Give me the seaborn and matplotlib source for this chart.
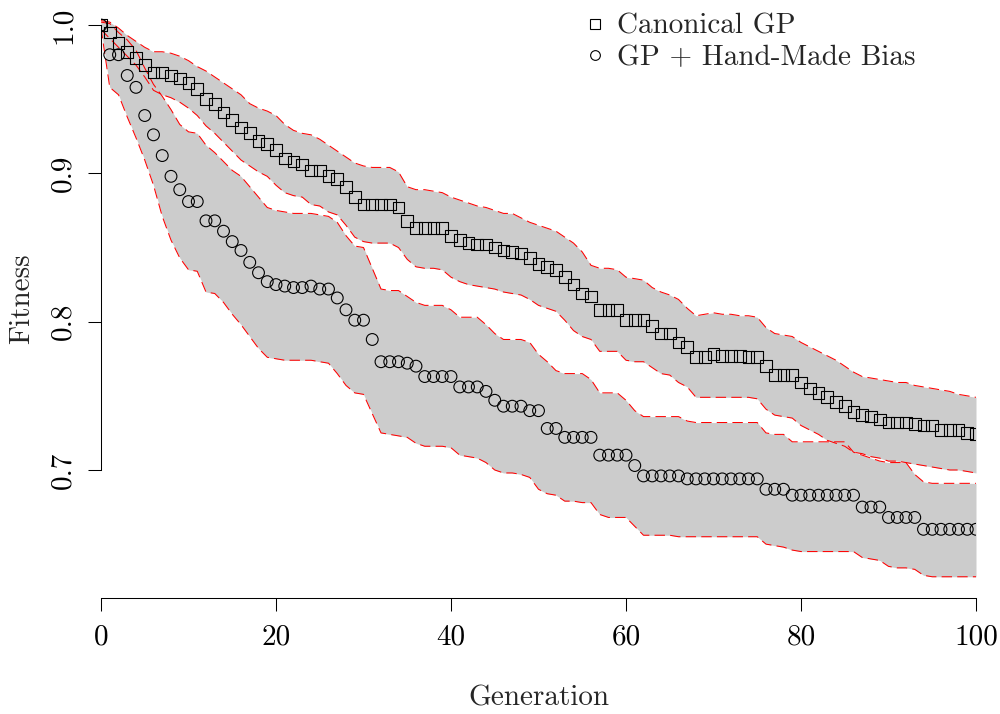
import numpy as np
import pandas as pd
import matplotlib
matplotlib.use("Agg")
import matplotlib.pyplot as plt
import seaborn as sns
from matplotlib.lines import Line2D

generation = list(range(101))

canonical_mean = [
    1.000, 0.995, 0.988, 0.982, 0.978, 0.973, 0.968, 0.968, 0.966, 0.964,
    0.961, 0.957, 0.950, 0.947, 0.941, 0.936, 0.931, 0.927, 0.922, 0.920,
    0.916, 0.910, 0.908, 0.906, 0.902, 0.902, 0.898, 0.896, 0.891, 0.884,
    0.879, 0.879, 0.879, 0.879, 0.877, 0.868, 0.863, 0.863, 0.863, 0.863,
    0.858, 0.855, 0.853, 0.852, 0.852, 0.850, 0.848, 0.847, 0.846, 0.843,
    0.839, 0.837, 0.835, 0.830, 0.825, 0.819, 0.817, 0.808, 0.808, 0.808,
    0.801, 0.801, 0.801, 0.797, 0.792, 0.792, 0.786, 0.783, 0.776, 0.776,
    0.778, 0.777, 0.777, 0.777, 0.776, 0.776, 0.770, 0.764, 0.764, 0.764,
    0.759, 0.755, 0.752, 0.749, 0.746, 0.743, 0.739, 0.737, 0.736, 0.734,
    0.732, 0.732, 0.732, 0.731, 0.730, 0.730, 0.727, 0.727, 0.727, 0.725,
    0.724,
]
canonical_upper = [
    1.003, 1.002, 0.998, 0.993, 0.989, 0.985, 0.982, 0.982, 0.981, 0.979,
    0.976, 0.972, 0.969, 0.965, 0.961, 0.957, 0.953, 0.947, 0.944, 0.942,
    0.939, 0.933, 0.929, 0.927, 0.926, 0.923, 0.919, 0.915, 0.911, 0.907,
    0.905, 0.904, 0.904, 0.904, 0.901, 0.891, 0.889, 0.889, 0.888, 0.887,
    0.884, 0.882, 0.880, 0.878, 0.877, 0.875, 0.873, 0.873, 0.870, 0.867,
    0.865, 0.863, 0.861, 0.857, 0.853, 0.847, 0.838, 0.836, 0.836, 0.835,
    0.830, 0.829, 0.828, 0.823, 0.820, 0.818, 0.815, 0.809, 0.804, 0.805,
    0.806, 0.805, 0.805, 0.804, 0.804, 0.803, 0.796, 0.792, 0.791, 0.790,
    0.786, 0.783, 0.780, 0.777, 0.774, 0.770, 0.766, 0.763, 0.762, 0.761,
    0.760, 0.759, 0.759, 0.757, 0.756, 0.755, 0.754, 0.753, 0.751, 0.750,
    0.749,
]
canonical_lower = [
    0.997, 0.991, 0.985, 0.979, 0.973, 0.965, 0.956, 0.953, 0.951, 0.948,
    0.944, 0.939, 0.932, 0.927, 0.921, 0.915, 0.909, 0.905, 0.901, 0.898,
    0.892, 0.887, 0.885, 0.884, 0.879, 0.878, 0.874, 0.872, 0.865, 0.857,
    0.854, 0.853, 0.853, 0.853, 0.850, 0.842, 0.837, 0.836, 0.836, 0.835,
    0.830, 0.827, 0.825, 0.824, 0.823, 0.822, 0.820, 0.819, 0.818, 0.815,
    0.811, 0.809, 0.807, 0.801, 0.794, 0.790, 0.788, 0.780, 0.780, 0.780,
    0.774, 0.773, 0.773, 0.769, 0.765, 0.764, 0.759, 0.756, 0.749, 0.749,
    0.749, 0.749, 0.749, 0.749, 0.749, 0.748, 0.741, 0.737, 0.736, 0.735,
    0.730, 0.727, 0.724, 0.720, 0.718, 0.716, 0.712, 0.711, 0.709, 0.708,
    0.706, 0.706, 0.705, 0.704, 0.703, 0.702, 0.701, 0.700, 0.700, 0.699,
    0.698,
]
biased_mean = [
    1.000, 0.980, 0.980, 0.966, 0.958, 0.939, 0.926, 0.912, 0.898, 0.889,
    0.881, 0.881, 0.868, 0.868, 0.861, 0.854, 0.848, 0.840, 0.833, 0.827,
    0.825, 0.824, 0.823, 0.823, 0.824, 0.822, 0.822, 0.816, 0.808, 0.801,
    0.801, 0.788, 0.773, 0.773, 0.773, 0.772, 0.770, 0.763, 0.763, 0.763,
    0.763, 0.756, 0.756, 0.756, 0.753, 0.747, 0.743, 0.743, 0.743, 0.740,
    0.740, 0.728, 0.728, 0.722, 0.722, 0.722, 0.722, 0.710, 0.710, 0.710,
    0.710, 0.703, 0.696, 0.696, 0.696, 0.696, 0.696, 0.694, 0.694, 0.694,
    0.694, 0.694, 0.694, 0.694, 0.694, 0.694, 0.687, 0.687, 0.687, 0.683,
    0.683, 0.683, 0.683, 0.683, 0.683, 0.683, 0.683, 0.675, 0.675, 0.675,
    0.668, 0.668, 0.668, 0.668, 0.660, 0.660, 0.660, 0.660, 0.660, 0.660,
    0.660,
]
biased_upper = [
    1.002, 1.001, 0.995, 0.990, 0.983, 0.971, 0.960, 0.952, 0.943, 0.933,
    0.928, 0.927, 0.919, 0.914, 0.908, 0.902, 0.898, 0.891, 0.884, 0.877,
    0.875, 0.874, 0.873, 0.873, 0.873, 0.872, 0.871, 0.867, 0.858, 0.851,
    0.850, 0.836, 0.822, 0.821, 0.821, 0.817, 0.813, 0.811, 0.811, 0.811,
    0.808, 0.803, 0.803, 0.803, 0.798, 0.792, 0.788, 0.788, 0.788, 0.786,
    0.778, 0.773, 0.767, 0.765, 0.765, 0.765, 0.761, 0.752, 0.752, 0.752,
    0.747, 0.740, 0.736, 0.736, 0.736, 0.736, 0.736, 0.733, 0.732, 0.732,
    0.732, 0.732, 0.732, 0.732, 0.732, 0.732, 0.725, 0.724, 0.724, 0.719,
    0.719, 0.719, 0.719, 0.719, 0.719, 0.719, 0.712, 0.710, 0.708, 0.706,
    0.705, 0.705, 0.705, 0.697, 0.692, 0.691, 0.691, 0.691, 0.691, 0.691,
    0.691,
]
biased_lower = [
    0.998, 0.958, 0.953, 0.938, 0.924, 0.909, 0.892, 0.871, 0.855, 0.843,
    0.835, 0.834, 0.820, 0.819, 0.813, 0.805, 0.798, 0.790, 0.782, 0.776,
    0.775, 0.774, 0.774, 0.774, 0.774, 0.773, 0.772, 0.765, 0.757, 0.752,
    0.751, 0.738, 0.725, 0.724, 0.723, 0.722, 0.718, 0.716, 0.716, 0.716,
    0.715, 0.710, 0.709, 0.708, 0.705, 0.700, 0.698, 0.698, 0.697, 0.695,
    0.687, 0.684, 0.683, 0.679, 0.679, 0.678, 0.678, 0.670, 0.668, 0.668,
    0.668, 0.662, 0.656, 0.656, 0.656, 0.656, 0.655, 0.655, 0.655, 0.655,
    0.655, 0.655, 0.655, 0.655, 0.655, 0.655, 0.650, 0.649, 0.648, 0.646,
    0.645, 0.645, 0.645, 0.645, 0.645, 0.645, 0.645, 0.641, 0.640, 0.639,
    0.635, 0.634, 0.634, 0.633, 0.629, 0.628, 0.628, 0.628, 0.628, 0.628,
    0.628,
]

series_names = ["Canonical GP", "GP + Hand-Made Bias"]
x_ticks = [0, 20, 40, 60, 80, 100]
x_tick_labels = ["0", "20", "40", "60", "80", "100"]
y_ticks = [0.7, 0.8, 0.9, 1.0]
y_tick_labels = ["0.7", "0.8", "0.9", "1.0"]

sns.set_style("ticks")
plt.rcParams["font.family"] = ["cmr10", "DejaVu Serif"]
plt.rcParams["axes.formatter.use_mathtext"] = True
plt.rcParams["axes.unicode_minus"] = False

FS = 21

df = pd.DataFrame({
    "generation": generation * 2,
    "fitness": canonical_mean + biased_mean,
    "upper": canonical_upper + biased_upper,
    "lower": canonical_lower + biased_lower,
    "method": [series_names[0]] * 101 + [series_names[1]] * 101,
})

fig = plt.figure(figsize=(10, 7.14), dpi=100)
ax = fig.add_axes([0.101, 0.1625, 0.875, 0.8375])

# shaded spread bands
for name in series_names:
    sub = df[df["method"] == name]
    ax.fill_between(sub["generation"], sub["lower"], sub["upper"],
                    color="#cccccc", linewidth=0, zorder=1)

# dashed red band edges
edges = pd.concat([
    df.assign(edge="upper", y=df["upper"]),
    df.assign(edge="lower", y=df["lower"]),
])
edges["key"] = edges["method"] + "-" + edges["edge"]
sns.lineplot(data=edges, x="generation", y="y", units="key", estimator=None,
             color="red", linewidth=0.75, dashes=False, ax=ax, zorder=2,
             legend=False)
for line in ax.get_lines():
    line.set_dashes((10, 5))

# mean fitness per generation
sns.scatterplot(data=df, x="generation", y="fitness", style="method",
                markers={series_names[0]: "s", series_names[1]: "o"},
                s=72, facecolor="none", edgecolor="black", linewidth=0.8,
                ax=ax, zorder=3, legend=False)

ax.set_xlim(0, 100)
ax.set_ylim(0.6137, 1.0169)
ax.set_xticks(x_ticks)
ax.set_xticklabels(x_tick_labels)
ax.set_yticks(y_ticks)
ax.set_yticklabels(y_tick_labels, rotation=90, va="center")
ax.tick_params(axis="both", length=9.5, width=0.75, labelsize=FS,
               color="black", labelcolor="black")
ax.tick_params(axis="x", pad=9)
ax.tick_params(axis="y", pad=8)

for side in ["top", "right"]:
    ax.spines[side].set_visible(False)
ax.spines["left"].set_bounds(0.7, 1.0)
ax.spines["bottom"].set_bounds(0, 100)
for side in ["left", "bottom"]:
    ax.spines[side].set_linewidth(0.75)
    ax.spines[side].set_color("black")

ax.set_xlabel("Generation", fontsize=FS)
ax.set_ylabel("Fitness", fontsize=FS)
ax.xaxis.set_label_coords(0.5, -0.167)
ax.yaxis.set_label_coords(-0.09, 0.5)
ax.xaxis.label.set_va("center")
ax.yaxis.label.set_va("center")

handles = [
    Line2D([], [], linestyle="none", marker="s", markersize=7,
           markerfacecolor="none", markeredgecolor="black", markeredgewidth=0.8),
    Line2D([], [], linestyle="none", marker="o", markersize=7,
           markerfacecolor="none", markeredgecolor="black", markeredgewidth=0.8),
]
fig.legend(handles, series_names, loc="upper left",
           bbox_to_anchor=(0.583, 0.981), frameon=False, fontsize=FS,
           handlelength=0.8, handletextpad=0.35, labelspacing=0.15,
           borderpad=0.0, borderaxespad=0.0)

fig.savefig("out.png", dpi=100)
